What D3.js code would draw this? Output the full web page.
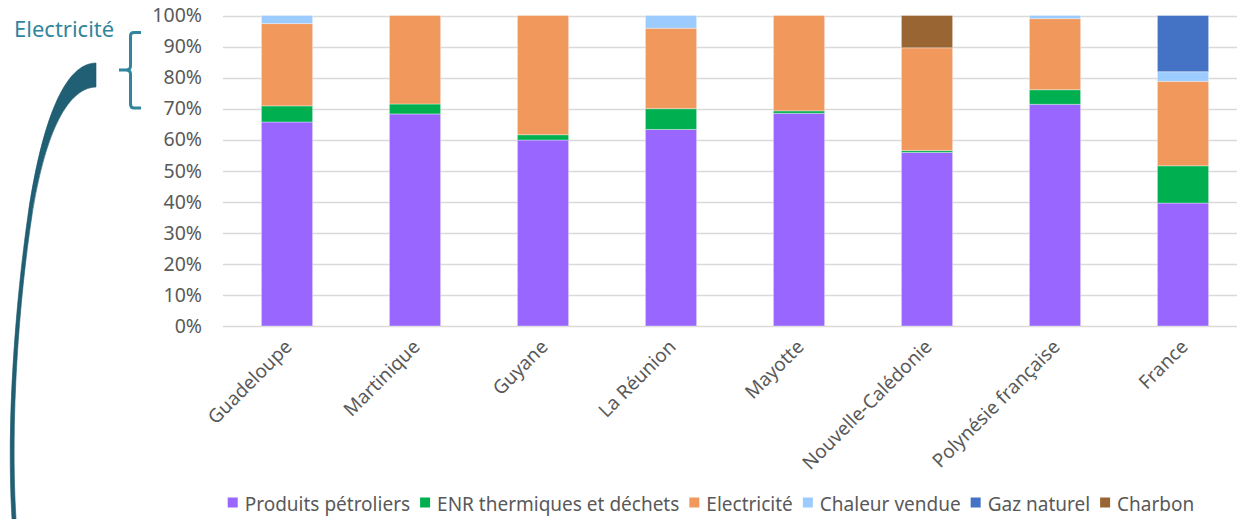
<!DOCTYPE html>
<html><head><meta charset="utf-8">
<script src="https://cdn.jsdelivr.net/npm/d3@7"></script>
<style>
html,body{margin:0;padding:0;background:#fff;}
svg{display:block;}
text{font-family:"Noto Sans",sans-serif;}
</style></head>
<body>
<script>
const categories = ["Guadeloupe","Martinique","Guyane","La Réunion","Mayotte","Nouvelle-Calédonie","Polynésie française","France"];
const seriesNames = ["Produits pétroliers","ENR thermiques et déchets","Electricité","Chaleur vendue","Gaz naturel","Charbon"];
const seriesColors = ["#9966FF","#00B050","#F1995D","#9BCBFF","#4472C4","#996633"];
const produitsPetroliers = [65.7, 68.3, 59.9, 63.3, 68.5, 55.9, 71.4, 39.6];
const enrThermiques     = [ 5.2,  3.2,  1.7,  6.7,  0.8,  0.6,  4.7, 12.0];
const electricite       = [26.5, 28.5, 38.4, 25.9, 30.7, 33.1, 22.9, 27.2];
const chaleurVendue     = [ 2.6,  0.0,  0.0,  4.1,  0.0,  0.0,  1.0,  3.1];
const gazNaturel        = [ 0.0,  0.0,  0.0,  0.0,  0.0,  0.0,  0.0, 18.1];
const charbon           = [ 0.0,  0.0,  0.0,  0.0,  0.0, 10.4,  0.0,  0.0];
const yTicks = [0,10,20,30,40,50,60,70,80,90,100];
const annotationLabel = "Electricité";

const W = 1237, H = 519;
const svg = d3.select("body").append("svg").attr("width", W).attr("height", H);

const seriesValues = [produitsPetroliers, enrThermiques, electricite, chaleurVendue, gazNaturel, charbon];
const rows = categories.map((c, i) => {
  const r = {category: c};
  seriesNames.forEach((s, j) => r[s] = seriesValues[j][i]);
  return r;
});

const x = d3.scaleBand().domain(categories).range([223, 1247]).paddingInner(0.6).paddingOuter(0.3);
const y = d3.scaleLinear().domain([0, 100]).range([326, 15.5]);
const color = d3.scaleOrdinal().domain(seriesNames).range(seriesColors);

// gridlines
svg.append("g").selectAll("line").data(yTicks).join("line")
  .attr("x1", 223).attr("x2", W)
  .attr("y1", d => Math.round(y(d)) + 0.5).attr("y2", d => Math.round(y(d)) + 0.5)
  .attr("stroke", "#D9D9D9").attr("stroke-width", 1.3);

// y axis labels
const yAxis = d3.axisLeft(y).tickValues(yTicks).tickFormat(d => d + "%").tickSize(0).tickPadding(0);
const ya = svg.append("g").attr("transform", "translate(202,0)").call(yAxis);
ya.select(".domain").remove();
ya.selectAll("text").attr("font-size", 19.5).attr("fill", "#595959").attr("font-family", "Noto Sans");

// stacked bars
const stack = d3.stack().keys(seriesNames);
const stacked = stack(rows);
svg.append("g").selectAll("g").data(stacked).join("g")
  .attr("fill", d => color(d.key))
  .selectAll("rect").data(d => d.filter(p => p[1] - p[0] > 0)).join("rect")
  .attr("x", d => x(d.data.category))
  .attr("width", x.bandwidth())
  .attr("y", d => y(d[1]))
  .attr("height", d => y(d[0]) - y(d[1]))
  .attr("stroke", "#fff").attr("stroke-opacity", 0.35).attr("stroke-width", 1);

// x axis labels
const xAxis = d3.axisBottom(x).tickSize(0).tickPadding(0);
const xa = svg.append("g").attr("transform", "translate(0,326)").call(xAxis);
xa.select(".domain").remove();
xa.selectAll("text")
  .attr("font-size", 19).attr("fill", "#595959").attr("font-family", "Noto Sans")
  .attr("text-anchor", "end").attr("dy", 0).attr("y", 0)
  .attr("transform", "translate(6,22) rotate(-45)");

// legend
const legend = svg.append("g");
let lx = 0;
seriesNames.forEach((s, i) => {
  const g = legend.append("g");
  g.append("rect").attr("x", 0).attr("y", -13).attr("width", 10).attr("height", 10).attr("fill", color(s));
  const t = g.append("text").attr("x", 17).attr("y", 0)
    .attr("font-size", 19).attr("fill", "#595959").text(s);
  const w = t.node().getComputedTextLength();
  g.attr("transform", `translate(${lx},0)`);
  lx += 17 + w + 10;
});
const totalW = lx - 10;
legend.attr("transform", `translate(${711 - totalW / 2},510.5)`);

// annotation
const teal = "#31859C";
svg.append("text").attr("x", 14).attr("y", 37).attr("font-size", 22).attr("fill", teal).text(annotationLabel);
svg.append("path")
  .attr("d", "M141,32.5 L134,32.5 Q130.5,32.5 130.5,36 L130.5,66 Q130.5,70 126,70 L119,70 M126,70 Q130.5,70 130.5,74 L130.5,104 Q130.5,108 134,108 L141,108")
  .attr("fill", "none").attr("stroke", teal).attr("stroke-width", 3);
svg.append("path")
  .attr("d", "M96,63 C65,63 42,120 28,215 C16,300 6,420 12,519 L16,519 C10,420 19,300 32,215 C44,140 65,88 96,87 Z")
  .attr("fill", "#215F74").attr("stroke", "#1d5a6c").attr("stroke-width", 0.6);
</script>
</body></html>
